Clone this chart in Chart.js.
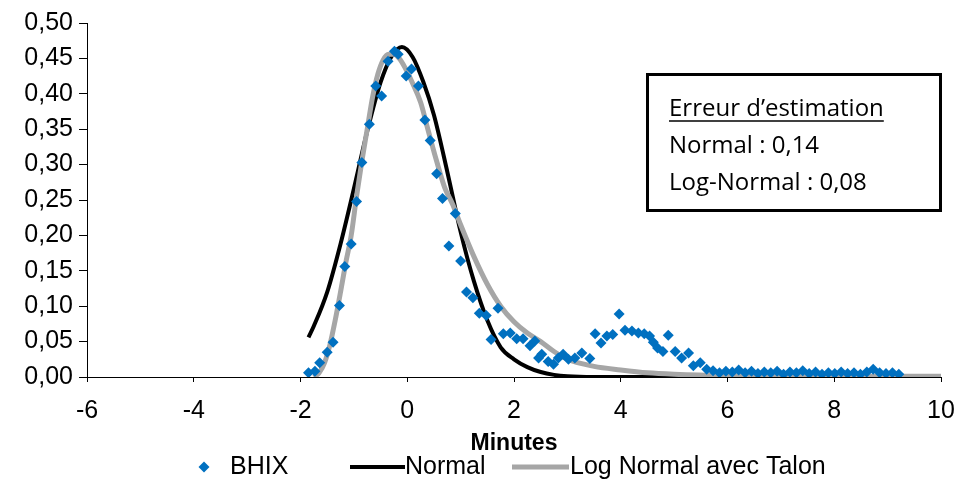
<!DOCTYPE html>
<html>
<head>
<meta charset="utf-8">
<script src="https://cdn.jsdelivr.net/npm/chart.js@4.4.1/dist/chart.umd.min.js"></script>
<style>
  html, body { margin: 0; padding: 0; background: #fff; }
</style>
</head>
<body>
<canvas id="chart" width="956" height="481"></canvas>
<script>
// BHIX observed density (minutes)
const bhixX = [
  -1.85, -1.73, -1.64, -1.50, -1.39, -1.27, -1.17, -1.05, -0.95, -0.85,
  -0.71, -0.59, -0.48, -0.36, -0.24, -0.17, -0.02, 0.08, 0.21, 0.33,
  0.43, 0.55, 0.66, 0.78, 0.90, 1.00, 1.11, 1.23, 1.35, 1.48,
  1.57, 1.70, 1.80, 1.93, 2.05, 2.17, 2.30, 2.39, 2.46, 2.52,
  2.64, 2.74, 2.83, 2.92, 3.02, 3.14, 3.27, 3.42, 3.52, 3.63,
  3.74, 3.85, 3.97, 4.08, 4.21, 4.33, 4.44, 4.54, 4.61, 4.69,
  4.79, 4.89, 5.02, 5.14, 5.27, 5.36, 5.49, 5.61,
  5.73, 5.85, 5.97, 6.09, 6.21, 6.33, 6.45, 6.57, 6.69, 6.81,
  6.93, 7.05, 7.17, 7.29, 7.41, 7.53, 7.65, 7.77, 7.89, 8.01,
  8.13, 8.25, 8.37, 8.49, 8.61, 8.73, 8.85, 8.97, 9.09, 9.21
];
const bhixY = [
  0.006, 0.008, 0.020, 0.035, 0.049, 0.101, 0.156, 0.188, 0.248, 0.303,
  0.357, 0.411, 0.397, 0.446, 0.460, 0.456, 0.425, 0.435, 0.411, 0.363,
  0.334, 0.287, 0.252, 0.185, 0.231, 0.164, 0.120, 0.112, 0.090, 0.087,
  0.053, 0.097, 0.061, 0.062, 0.054, 0.054, 0.044, 0.051, 0.027, 0.032,
  0.022, 0.018, 0.027, 0.032, 0.025, 0.027, 0.034, 0.026, 0.061, 0.048,
  0.058, 0.060, 0.089, 0.066, 0.065, 0.062, 0.061, 0.058, 0.049, 0.041,
  0.036, 0.059, 0.036, 0.027, 0.034, 0.016, 0.020, 0.011,
  0.009, 0.006, 0.008, 0.007, 0.010, 0.006, 0.008, 0.005, 0.007, 0.006,
  0.008, 0.004, 0.007, 0.006, 0.009, 0.005, 0.007, 0.004, 0.006, 0.005,
  0.007, 0.005, 0.006, 0.004, 0.007, 0.011, 0.006, 0.005, 0.006, 0.004
];

// Normal fit
const normalX = [-1.85, -1.75, -1.5, -1.25, -1.0, -0.75, -0.5, -0.3, -0.1, 0.1, 0.3,
  0.5, 0.75, 1.0, 1.25, 1.5, 1.75, 2.0, 2.25, 2.5, 2.75, 3.0, 3.5, 4, 5, 6];
const normalY = [0.056, 0.072, 0.120, 0.188, 0.266, 0.347, 0.416, 0.452, 0.466, 0.452, 0.417,
  0.370, 0.290, 0.205, 0.135, 0.080, 0.042, 0.025, 0.014, 0.007, 0.003, 0.001, 0, 0, 0, 0];

// Log normal avec talon fit
const logNormX = [-1.75, -1.65, -1.55, -1.45, -1.35, -1.25, -1.15, -1.05, -0.95, -0.85,
  -0.75, -0.65, -0.55, -0.45, -0.35, -0.25, -0.15, -0.05, 0.1, 0.25,
  0.4, 0.55, 0.7, 0.85, 1.0, 1.25, 1.5, 1.75, 2.0, 2.25,
  2.5, 2.75, 3.0, 3.5, 4.0, 4.5, 5.0, 6.0, 7.0, 8.0, 9.0, 10.0];
const logNormY = [0.000, 0.006, 0.020, 0.045, 0.080, 0.120, 0.162, 0.200, 0.255, 0.305,
  0.350, 0.395, 0.428, 0.448, 0.456, 0.456, 0.450, 0.438, 0.415, 0.388,
  0.346, 0.305, 0.268, 0.244, 0.215, 0.170, 0.131, 0.100, 0.078, 0.062,
  0.050, 0.036, 0.025, 0.015, 0.010, 0.006, 0.004, 0.002, 0.0015, 0.001, 0.001, 0.001];

const errorTitle = 'Erreur d\u2019estimation';
const errorLines = ['Normal : 0,14', 'Log-Normal : 0,08'];

function toPoints(xs, ys) {
  return xs.map((x, i) => ({ x: x, y: ys[i] }));
}

const tickFont = { family: '"Liberation Sans", Arial, sans-serif', size: 25 };

// legend (Excel style) + error box
const extras = {
  id: 'extras',
  afterDraw(chart) {
    const c = chart.ctx;
    const ds = chart.data.datasets;
    c.save();
    c.font = '25px "Liberation Sans", Arial, sans-serif';
    c.textBaseline = 'middle';
    const ly = 467;

    // BHIX diamond
    c.fillStyle = '#0070C0';
    c.beginPath();
    c.moveTo(204, ly - 5.5);
    c.lineTo(209.5, ly);
    c.lineTo(204, ly + 5.5);
    c.lineTo(198.5, ly);
    c.closePath();
    c.fill();
    c.fillStyle = '#000';
    c.fillText(ds[0].label, 230, ly);

    c.lineWidth = 4;
    c.strokeStyle = '#000';
    c.beginPath();
    c.moveTo(350, ly); c.lineTo(405, ly);
    c.stroke();
    c.fillText(ds[1].label, 405, ly);

    c.lineWidth = 5;
    c.strokeStyle = '#A6A6A6';
    c.beginPath();
    c.moveTo(512, ly); c.lineTo(569, ly);
    c.stroke();
    c.fillText(ds[2].label, 570, ly);

    // error box
    c.fillStyle = '#fff';
    c.fillRect(647, 74, 294, 137);
    c.lineWidth = 3;
    c.strokeStyle = '#000';
    c.strokeRect(647.5, 74.5, 293, 136);
    c.fillStyle = '#000';
    c.textBaseline = 'alphabetic';
    c.font = '24px "Open Sans", sans-serif';
    c.fillText(errorTitle, 669, 116);
    const w = c.measureText(errorTitle).width;
    c.lineWidth = 1.5;
    c.beginPath();
    c.moveTo(669, 121); c.lineTo(669 + w, 121);
    c.stroke();
    c.fillText(errorLines[0], 669, 153);
    c.fillText(errorLines[1], 669, 190);
    c.restore();
  }
};

const ctx = document.getElementById('chart').getContext('2d');
new Chart(ctx, {
  type: 'scatter',
  data: {
    datasets: [{
      label: 'BHIX',
      data: toPoints(bhixX, bhixY),
      pointStyle: 'rectRot',
      pointRadius: 5.5,
      backgroundColor: '#0070C0',
      borderColor: '#0070C0',
      borderWidth: 0,
      order: 0
    }, {
      label: 'Normal',
      data: toPoints(normalX, normalY),
      showLine: true,
      borderColor: '#000',
      borderWidth: 4,
      pointRadius: 0,
      cubicInterpolationMode: 'monotone',
      order: 2
    }, {
      label: 'Log Normal avec Talon',
      data: toPoints(logNormX, logNormY),
      showLine: true,
      borderColor: '#A6A6A6',
      borderWidth: 5,
      pointRadius: 0,
      cubicInterpolationMode: 'monotone',
      order: 1
    }]
  },
  options: {
    responsive: false,
    animation: false,
    layout: { padding: { left: 0, right: 15, top: 23, bottom: 24 } },
    scales: {
      x: {
        type: 'linear',
        min: -6,
        max: 10,
        ticks: { stepSize: 2, font: tickFont, color: '#000', padding: 14 },
        grid: { drawOnChartArea: false, tickLength: 5, color: '#000' },
        border: { color: '#000', width: 1 },
        title: {
          display: true,
          text: 'Minutes',
          color: '#000',
          font: { family: '"Liberation Sans", Arial, sans-serif', size: 23, weight: 'bold' },
          padding: 0
        },
        afterFit: s => {
          s.height = 80;
          s.paddingLeft = 0;
          s.paddingRight = 0;
        }
      },
      y: {
        min: 0,
        max: 0.5,
        ticks: {
          stepSize: 0.05,
          font: tickFont,
          color: '#000',
          padding: 6,
          callback: v => v.toFixed(2).replace('.', ',')
        },
        grid: { drawOnChartArea: false, tickLength: 8, color: '#000' },
        border: { color: '#000', width: 1 },
        afterFit: s => { s.width = 87; }
      }
    },
    plugins: {
      legend: { display: false },
      tooltip: { enabled: false }
    }
  },
  plugins: [extras]
});
</script>
</body>
</html>
